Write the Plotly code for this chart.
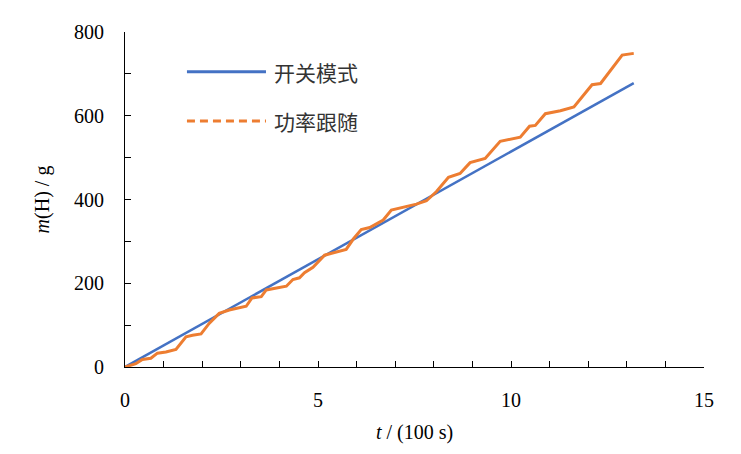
import plotly.graph_objects as go

# switch mode: straight line, read at its ends
t_switch = [0, 13.18]
m_switch = [0, 678]

# power tracking: stepped curve
t_track = [0.0, 0.28, 0.45, 0.67, 0.84, 1.06, 1.32, 1.58, 1.75, 1.97, 2.18, 2.44,
           2.70, 2.96, 3.14, 3.29, 3.53, 3.66, 3.92, 4.18, 4.35, 4.52, 4.65, 4.87,
           5.17, 5.39, 5.73, 5.91, 6.12, 6.34, 6.69, 6.90, 7.21, 7.55, 7.81, 8.07,
           8.38, 8.68, 8.94, 9.33, 9.72, 10.24, 10.48, 10.63, 10.89, 11.28, 11.63,
           12.10, 12.32, 12.88, 13.18]
m_track = [0, 8, 18, 21, 33, 36, 42, 72, 76, 79, 104, 128,
           136, 141, 145, 165, 168, 184, 188, 193, 209, 213, 225, 238,
           267, 273, 281, 305, 328, 333, 351, 375, 382, 389, 397, 419,
           453, 462, 488, 498, 539, 549, 575, 577, 605, 612, 621,
           674, 677, 745, 749]

legend_names = ["开关模式", "功率跟随"]
blue = "#4472C4"
orange = "#ED7D31"
serif = "Liberation Serif, Times New Roman, serif"
cjk = "Noto Sans CJK SC"

fig = go.Figure()
fig.add_trace(go.Scatter(x=t_switch, y=m_switch, mode="lines",
                         line=dict(color=blue, width=2.5), showlegend=False))
fig.add_trace(go.Scatter(x=t_track, y=m_track, mode="lines",
                         line=dict(color=orange, width=3), showlegend=False))

# hand-drawn legend (long sample lines as in the reference)
legend_rows = [(0.881, blue, "solid"), (0.734, orange, "8px,5px")]
for (yy, col, dash), name in zip(legend_rows, legend_names):
    fig.add_shape(type="line", xref="paper", yref="paper",
                  x0=0.107, x1=0.2435, y0=yy, y1=yy,
                  line=dict(color=col, width=3, dash=dash))
    fig.add_annotation(xref="paper", yref="paper", x=0.254, y=yy,
                       text=name, showarrow=False, xanchor="left", yanchor="middle",
                       font=dict(family=cjk, size=21, color="#333"))

fig.update_xaxes(
    range=[0, 15], dtick=5, showgrid=False, zeroline=False,
    showline=True, linecolor="black", linewidth=1,
    ticks="inside", ticklen=6, tickcolor="black",
    minor=dict(dtick=1, ticks="inside", ticklen=6, tickcolor="black"),
    ticklabelstandoff=15,
    tickfont=dict(family=serif, size=20, color="black"),
    title=dict(text="<i>t</i> / (100 s)", standoff=14,
               font=dict(family=serif, size=20, color="black")),
)
fig.update_yaxes(
    range=[0, 800], dtick=200, showgrid=False, zeroline=False,
    showline=True, linecolor="black", linewidth=1,
    ticks="inside", ticklen=6, tickcolor="black",
    minor=dict(dtick=100, ticks="inside", ticklen=6, tickcolor="black"),
    ticklabelstandoff=16,
    tickfont=dict(family=serif, size=20, color="black"),
    title=dict(text="<i>m</i>(H) / g", standoff=19,
               font=dict(family=serif, size=20, color="black")),
)
# page body adds an 8px offset, so the figure is a bit smaller than the window
fig.update_layout(
    width=733, height=446,
    margin=dict(l=117, r=37, t=24, b=87),
    plot_bgcolor="white", paper_bgcolor="white",
)

fig.write_html("out.html")
